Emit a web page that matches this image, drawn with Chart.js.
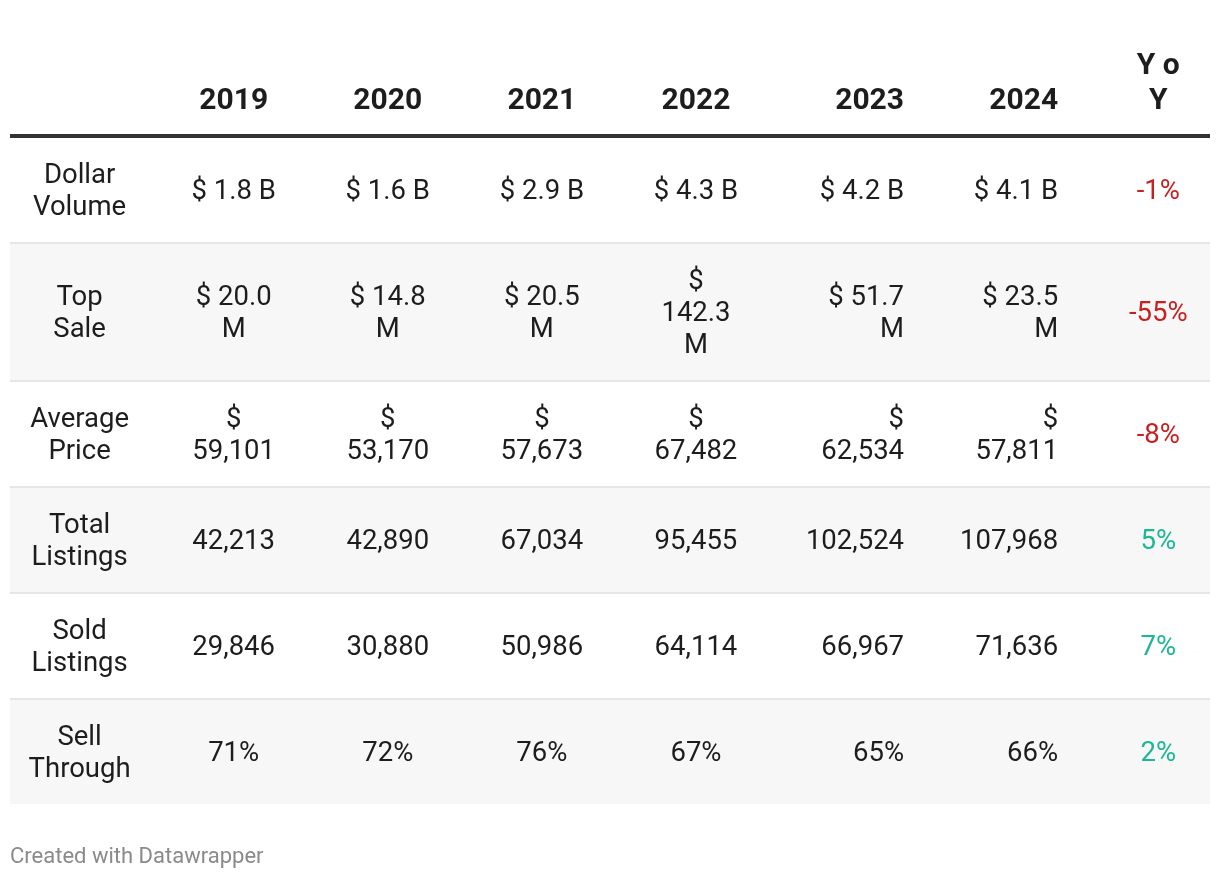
<!DOCTYPE html>
<html><head><meta charset="utf-8">
<script src="https://cdn.jsdelivr.net/npm/chart.js@4.4.1/dist/chart.umd.min.js"></script>
<style>html,body{margin:0;padding:0;background:#fff}canvas{display:block}</style>
</head><body>
<canvas id="c" width="1220" height="880"></canvas>
<script>
// ---------- data ----------
const years = ['2019','2020','2021','2022','2023','2024'];
const yoyHeader = 'Y o Y';
const metrics = ['Dollar Volume','Top Sale','Average Price','Total Listings','Sold Listings','Sell Through'];
const dollarVolumeB = [1.8, 1.6, 2.9, 4.3, 4.2, 4.1];
const topSaleM = [20.0, 14.8, 20.5, 142.3, 51.7, 23.5];
const averagePrice = [59101, 53170, 57673, 67482, 62534, 57811];
const totalListings = [42213, 42890, 67034, 95455, 102524, 107968];
const soldListings = [29846, 30880, 50986, 64114, 66967, 71636];
const sellThroughPct = [71, 72, 76, 67, 65, 66];
const yoyPct = [-1, -55, -8, 5, 7, 2];
const footerText = 'Created with Datawrapper';

// ---------- formatting ----------
const fmtInt = v => v.toLocaleString('en-US');
const rowValues = [
  dollarVolumeB.map(v => '$ ' + v.toFixed(1) + ' B'),
  topSaleM.map(v => '$ ' + v.toFixed(1) + ' M'),
  averagePrice.map(v => '$ ' + fmtInt(v)),
  totalListings.map(fmtInt),
  soldListings.map(fmtInt),
  sellThroughPct.map(v => v + '%')
];
const headers = [''].concat(years, [yoyHeader]);

// ---------- styles ----------
const FAMILY = 'Roboto, "Noto Sans", sans-serif';
const BODY_PX = 27.5, HEAD_PX = 30, FOOT_PX = 22;
const BODY_FONT = BODY_PX + 'px ' + FAMILY;
const HEAD_FONT = 'bold ' + HEAD_PX + 'px ' + FAMILY;
const FOOT_FONT = FOOT_PX + 'px ' + FAMILY;
const BODY_LH = 32, HEAD_LH = 35, ROW_PAD = 40, SEP = 2;
const BODY_DY = 2.5, HEAD_DY = 2.5;
const colAlign = ['center','center','center','center','center','right','right','center'];
const RIGHT_INSET = 54;
const bodyWrap = [3.2,3.2,3.2,3.2,3.2,3.2,3.2,3.2].map(e => e * BODY_PX);
const headWrap = [80, 80, 80, 80, 80, 80, 80, 60];
const TEXT = '#1d1d1d', RED = '#c91f1f', GREEN = '#1cb894';

const mctx = document.createElement('canvas').getContext('2d');
function wrap(text, font, maxW) {
  mctx.font = font;
  const words = String(text).split(' ');
  const lines = [];
  let cur = '';
  for (const w of words) {
    const t = cur ? cur + ' ' + w : w;
    if (cur && mctx.measureText(t).width > maxW) { lines.push(cur); cur = w; }
    else cur = t;
  }
  if (cur) lines.push(cur);
  return lines;
}
function cellText(r, c) {
  if (c === 0) return metrics[r];
  if (c === 7) return yoyPct[r] + '%';
  return rowValues[r][c - 1];
}
function cellColor(r, c) {
  if (c === 7) return yoyPct[r] < 0 ? RED : GREEN;
  return TEXT;
}

// row geometry derived from wrapped line counts
const rowStart = [], rowContent = [];
let acc = 0;
metrics.forEach((m, r) => {
  let n = 1;
  for (let c = 0; c < 8; c++) n = Math.max(n, wrap(cellText(r, c), BODY_FONT, bodyWrap[c]).length);
  rowStart.push(acc);
  rowContent.push(n * BODY_LH + ROW_PAD);
  acc += n * BODY_LH + ROW_PAD + (r < metrics.length - 1 ? SEP : 0);
});
const TOTAL = acc;

const points = [];
metrics.forEach((m, r) => {
  for (let c = 0; c < 8; c++) points.push({ x: c, y: rowStart[r] + rowContent[r] / 2, r: r, c: c });
});

function alignX(px, c) { return colAlign[c] === 'right' ? px + RIGHT_INSET : px; }

const tablePlugin = {
  id: 'table',
  beforeDatasetsDraw(chart) {
    const ctx = chart.ctx, a = chart.chartArea, ys = chart.scales.y, xs = chart.scales.x;
    ctx.save();
    metrics.forEach((m, r) => {
      const t = ys.getPixelForValue(rowStart[r]);
      const b = ys.getPixelForValue(rowStart[r] + rowContent[r]);
      ctx.fillStyle = r % 2 === 1 ? '#f7f7f7' : '#ffffff';
      ctx.fillRect(a.left, t, a.right - a.left, b - t);
      if (r < metrics.length - 1) {
        const s = ys.getPixelForValue(rowStart[r] + rowContent[r] + SEP);
        ctx.fillStyle = '#e6e6e6';
        ctx.fillRect(a.left, b, a.right - a.left, s - b);
      }
    });
    // header rule
    ctx.fillStyle = '#333333';
    ctx.fillRect(a.left, a.top - 4, a.right - a.left, 4);
    // headers
    ctx.font = HEAD_FONT;
    ctx.fillStyle = TEXT;
    ctx.textBaseline = 'middle';
    headers.forEach((h, c) => {
      if (!h) return;
      const lines = wrap(h, HEAD_FONT, headWrap[c]);
      const x = alignX(xs.getPixelForValue(c), c);
      ctx.textAlign = colAlign[c];
      lines.forEach((ln, k) => {
        ctx.fillText(ln, x, a.top - 39 + HEAD_DY - (lines.length - 1 - k) * HEAD_LH);
      });
    });
    // footer
    ctx.font = FOOT_FONT;
    ctx.fillStyle = '#8a8a8a';
    ctx.textAlign = 'left';
    ctx.textBaseline = 'alphabetic';
    ctx.fillText(footerText, a.left, a.bottom + 59);
    ctx.restore();
  },
  afterDatasetsDraw(chart) {
    const ctx = chart.ctx;
    const meta = chart.getDatasetMeta(0);
    ctx.save();
    ctx.font = BODY_FONT;
    ctx.textBaseline = 'middle';
    meta.data.forEach((el, i) => {
      const p = chart.data.datasets[0].data[i];
      const lines = wrap(cellText(p.r, p.c), BODY_FONT, bodyWrap[p.c]);
      ctx.fillStyle = cellColor(p.r, p.c);
      ctx.textAlign = colAlign[p.c];
      const x = alignX(el.x, p.c);
      lines.forEach((ln, k) => {
        ctx.fillText(ln, x, el.y + BODY_DY + (k - (lines.length - 1) / 2) * BODY_LH);
      });
    });
    ctx.restore();
  }
};

new Chart(document.getElementById('c'), {
  type: 'scatter',
  data: { datasets: [{ data: points, pointRadius: 0, pointHoverRadius: 0, showLine: false }] },
  options: {
    responsive: false,
    animation: false,
    events: [],
    layout: { padding: { left: 10, right: 10, top: 138, bottom: 880 - 138 - TOTAL } },
    plugins: { legend: { display: false }, tooltip: { enabled: false } },
    scales: {
      x: { type: 'linear', min: -0.4517, max: 7.336, display: false },
      y: { type: 'linear', reverse: true, min: 0, max: TOTAL, display: false }
    }
  },
  plugins: [tablePlugin]
});
</script>
</body></html>
